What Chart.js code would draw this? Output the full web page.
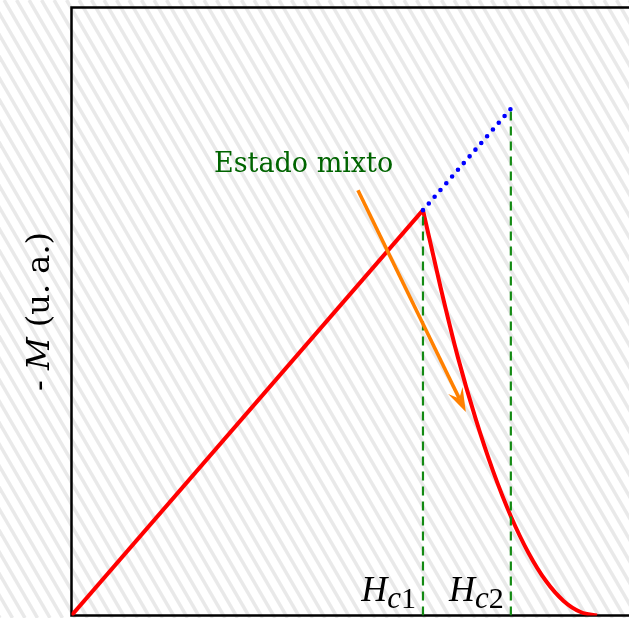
<!DOCTYPE html>
<html>
<head>
<meta charset="utf-8">
<script src="https://cdn.jsdelivr.net/npm/chart.js@4"></script>
<style>
  html, body { margin: 0; padding: 0; background: #fff; overflow: hidden; }
  #wrap { width: 629px; height: 618px; overflow: hidden; }
  canvas { display: block; }
</style>
</head>
<body>
<div id="wrap"><canvas id="c" width="672" height="618"></canvas></div>
<script>
// Magnetisation curve of a type-II superconductor (arbitrary units)
// Meissner state: -M grows linearly with H up to Hc1
const hMeissner = [0, 1.0];
const mMeissner = [0, 1.0];
// Mixed state: -M falls from Hc1 and vanishes past Hc2
const hMixed = [1.00, 1.05, 1.10, 1.15, 1.20, 1.25, 1.30, 1.35, 1.40, 1.45, 1.495];
const mMixed = [1.00, 0.81, 0.635, 0.485, 0.355, 0.245, 0.155, 0.085, 0.036, 0.008, 0];
// Continuation of the linear branch up to Hc2
const hExtension = [1.0, 1.25];
const mExtension = [1.0, 1.25];
// Critical fields and their subscripts
const criticalFields = [1.0, 1.25];
const criticalTops = [1.0, 1.25];
const criticalSubs = ['c1', 'c2'];
// Annotation arrow pointing into the mixed-state region
const arrowTail = [0.815, 1.049];
const arrowTip = [1.122, 0.502];
const annotationText = 'Estado mixto';
const axisLabel = ['- ', 'M', ' (u. a.)'];

const pts = (xs, ys) => xs.map((x, i) => ({ x: x, y: ys[i] }));

// light diagonal hatching across the whole canvas
const hatch = {
  id: 'hatch',
  beforeDraw(chart) {
    const ctx = chart.ctx, W = chart.width, H = chart.height;
    ctx.save();
    ctx.fillStyle = '#ffffff';
    ctx.fillRect(0, 0, W, H);
    ctx.strokeStyle = 'rgba(0,0,0,0.085)';
    ctx.lineWidth = 3.5;
    const step = 12.5, run = H * 0.58;
    for (let x0 = -run - step; x0 < W + step; x0 += step) {
      ctx.beginPath();
      ctx.moveTo(x0, 0);
      ctx.lineTo(x0 + run, H);
      ctx.stroke();
    }
    ctx.restore();
  }
};

// plot frame, arrow and text
const decor = {
  id: 'decor',
  beforeDatasetsDraw(chart) {
    const { ctx, chartArea: a } = chart;
    ctx.save();
    ctx.strokeStyle = '#000';
    ctx.lineWidth = 2.5;
    ctx.strokeRect(a.left, a.top, a.right - a.left, a.bottom - a.top);
    ctx.restore();
  },
  afterDatasetsDraw(chart) {
    const { ctx, scales: { x, y } } = chart;
    ctx.save();

    // arrow
    const tx = x.getPixelForValue(arrowTail[0]), ty = y.getPixelForValue(arrowTail[1]);
    const hx = x.getPixelForValue(arrowTip[0]), hy = y.getPixelForValue(arrowTip[1]);
    const len = Math.hypot(hx - tx, hy - ty);
    const ux = (hx - tx) / len, uy = (hy - ty) / len;
    const nx = -uy, ny = ux;
    const L = 24, Wd = 8, notch = 15;
    ctx.strokeStyle = '#ff8000';
    ctx.fillStyle = '#ff8000';
    ctx.lineWidth = 3.6;
    ctx.lineCap = 'butt';
    ctx.beginPath();
    ctx.moveTo(tx, ty);
    ctx.lineTo(hx - ux * notch, hy - uy * notch);
    ctx.stroke();
    ctx.beginPath();
    ctx.moveTo(hx, hy);
    ctx.lineTo(hx - ux * L + nx * Wd, hy - uy * L + ny * Wd);
    ctx.lineTo(hx - ux * notch, hy - uy * notch);
    ctx.lineTo(hx - ux * L - nx * Wd, hy - uy * L - ny * Wd);
    ctx.closePath();
    ctx.fill();

    // annotation text
    ctx.fillStyle = '#006400';
    ctx.font = '27px "DejaVu Serif"';
    ctx.textBaseline = 'alphabetic';
    ctx.textAlign = 'left';
    ctx.fillText(annotationText, 214, 172);

    // critical field labels
    ctx.fillStyle = '#000';
    criticalFields.forEach((h, i) => {
      const px = x.getPixelForValue(h);
      const sub = criticalSubs[i];
      const fH = 'italic 36px "Liberation Serif"';
      const fC = 'italic 31px "Liberation Serif"';
      const fN = '30px "Liberation Serif"';
      ctx.font = fH; const wH = ctx.measureText('H').width;
      ctx.font = fC; const wC = ctx.measureText(sub[0]).width;
      ctx.font = fN; const wN = ctx.measureText(sub.slice(1)).width;
      let left = px - 7 - (wH + wC + wN);
      const base = 601;
      ctx.font = fH; ctx.fillText('H', left, base); left += wH;
      ctx.font = fC; ctx.fillText(sub[0], left, base + 7); left += wC;
      ctx.font = fN; ctx.fillText(sub.slice(1), left, base + 7);
    });

    // vertical axis label
    const fonts = ['32px "DejaVu Serif"', 'italic 32px "DejaVu Serif"', '32px "DejaVu Serif"'];
    const widths = axisLabel.map((s, i) => { ctx.font = fonts[i]; return ctx.measureText(s).width; });
    const total = widths.reduce((s, w) => s + w, 0);
    ctx.translate(49, (chart.chartArea.top + chart.chartArea.bottom) / 2);
    ctx.rotate(-Math.PI / 2);
    let cx = -total / 2;
    axisLabel.forEach((s, i) => { ctx.font = fonts[i]; ctx.fillText(s, cx, 0); cx += widths[i]; });
    ctx.restore();
  }
};

new Chart(document.getElementById('c'), {
  type: 'line',
  data: {
    datasets: [
      {
        data: pts(hMixed, mMixed),
        borderColor: '#ff0000', borderWidth: 4,
        cubicInterpolationMode: 'monotone', order: 3
      },
      {
        data: pts(hMeissner, mMeissner),
        borderColor: '#ff0000', borderWidth: 4, order: 3
      },
      ...criticalFields.map((h, i) => ({
        data: [{ x: h, y: 0 }, { x: h, y: criticalTops[i] }],
        borderColor: '#138a13', borderWidth: 2.2, borderDash: [9, 6], order: 2
      })),
      {
        data: pts(hExtension, mExtension),
        borderColor: '#0000ff', borderWidth: 4.6, borderDash: [0, 8.9],
        borderCapStyle: 'round', order: 1
      }
    ]
  },
  options: {
    responsive: false,
    animation: false,
    events: [],
    layout: { padding: { left: 71.5, top: 7.5, bottom: 2.5, right: 3 } },
    elements: { point: { radius: 0 }, line: { tension: 0, fill: false } },
    plugins: { legend: { display: false }, tooltip: { enabled: false } },
    scales: {
      x: { type: 'linear', min: 0, max: 1.7, display: false },
      y: { type: 'linear', min: 0, max: 1.5, display: false }
    }
  },
  plugins: [hatch, decor]
});
</script>
</body>
</html>
